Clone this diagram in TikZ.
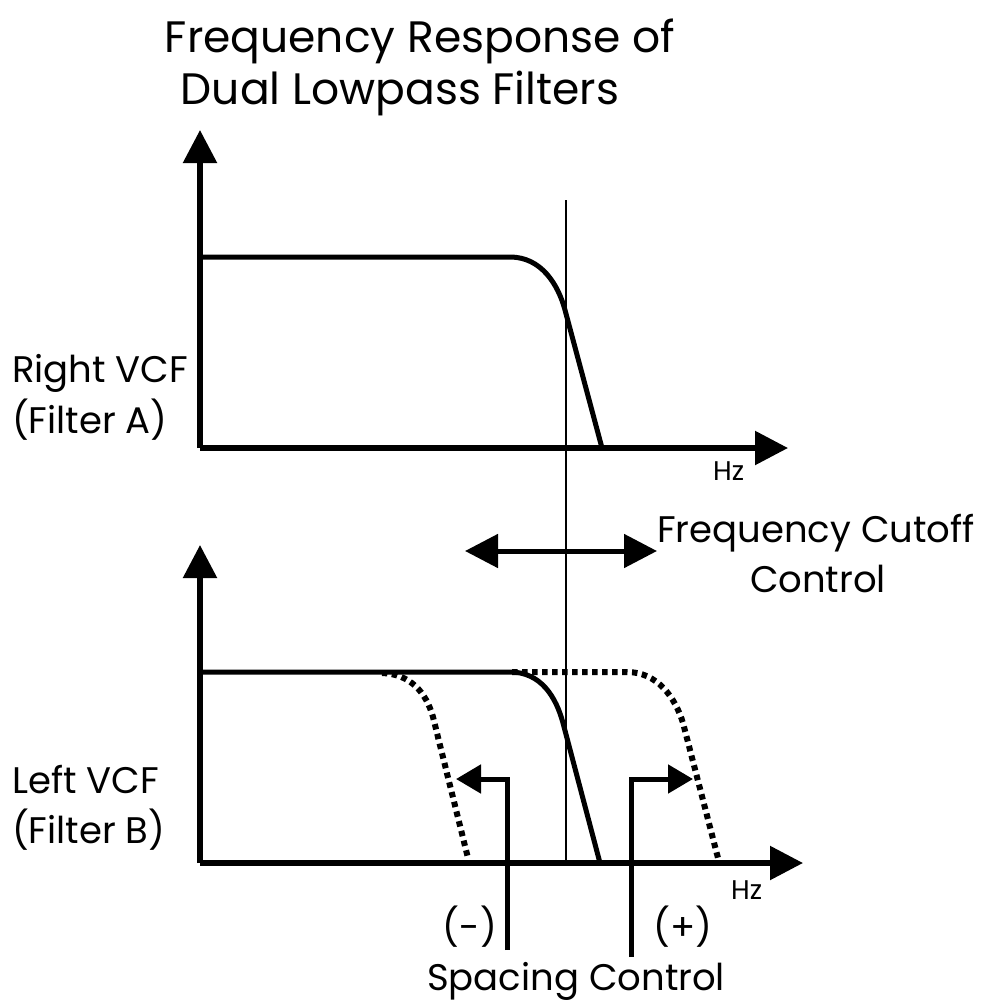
\documentclass[tikz,border=0pt]{standalone}
\usepackage{fontspec}
\setmainfont{Poppins}
\usetikzlibrary{arrows.meta}
\begin{document}
\begin{tikzpicture}[x=1pt,y=-1pt,
  axis/.style={line width=5.5pt,-{Triangle[length=33pt,width=33pt]}},
  curve/.style={line width=5pt},
  dotcurve/.style={line width=6pt,dash pattern=on 5.5pt off 4.5pt},
  thin/.style={line width=2pt},
  spc/.style={line width=5pt,-{Triangle[length=25pt,width=28pt]}},
  lbl/.style={inner sep=0pt,anchor=base west,font=\fontsize{37}{37}\selectfont},
  ttl/.style={inner sep=0pt,anchor=base,font=\fontsize{44}{44}\selectfont},
  hz/.style={inner sep=0pt,anchor=base west,font=\fontsize{27}{27}\selectfont}]
\useasboundingbox (0,0) rectangle (990,1002);
% coordinates
\coordinate (Ao) at (200,448);
\coordinate (Ay) at (200,130);
\coordinate (Ax) at (788,448);
\coordinate (Bo) at (200,863);
\coordinate (By) at (200,545);
\coordinate (Bx) at (803,863);
\coordinate (Vt) at (566,200);
\coordinate (Vb) at (566,863);
% top plot
\draw[axis] (Ao) -- (Ay);
\draw[axis] (Ao) -- (Ax);
\draw[curve,line join=round] (200,257) -- (510,257) .. controls (541,257) and (558,284) .. (565,310) -- (602,448);
% bottom plot
\draw[axis] (Bo) -- (By);
\draw[axis] (Bo) -- (Bx);
\draw[curve,line join=round] (200,672) -- (510,672) .. controls (541,672) and (556,697) .. (563,723) -- (600,863);
\draw[dotcurve] (382,673) .. controls (410,674) and (426,692) .. (433,717) -- (468,858);
\draw[dotcurve] (512,672) -- (627,672) .. controls (657,672) and (675,697) .. (683,723) -- (718,858);
% cutoff line
\draw[thin] (Vt) -- (Vb);
% frequency cutoff double arrow
\coordinate (FL) at (465,551);
\coordinate (FR) at (657,551);
\draw[line width=5pt,{Triangle[length=33pt,width=33pt]}-{Triangle[length=33pt,width=33pt]}] (FL) -- (FR);
% spacing arrows
\coordinate (SLb) at (507,950);
\coordinate (SLt) at (456,779);
\coordinate (SRb) at (631,957);
\coordinate (SRt) at (693,779);
\draw[spc] (SLb) |- (SLt);
\draw[spc] (SRb) |- (SRt);
% texts
\node[ttl] (t1) at (420,52) {Frequency Response of};
\node[ttl] (t2) at (400,104) {Dual Lowpass Filters};
\node[lbl] (ra) at (12,382) {Right VCF};
\node[lbl] (fa) at (12,433) {(Filter A)};
\node[lbl] (lb) at (12,793) {Left VCF};
\node[lbl] (fb) at (12,843) {(Filter B)};
\node[lbl] (fc) at (657,542) {Frequency Cutoff};
\node[lbl,anchor=base] (ct) at (818,592) {Control};
\node[hz] (hz1) at (713,480) {Hz};
\node[hz] (hz2) at (731,899) {Hz};
\node[lbl,anchor=base east] (mi) at (497,940) {(-)};
\node[lbl] (pl) at (653,940) {(+)};
\node[lbl] (sc) at (427,990) {Spacing Control};
\end{tikzpicture}
\end{document}
